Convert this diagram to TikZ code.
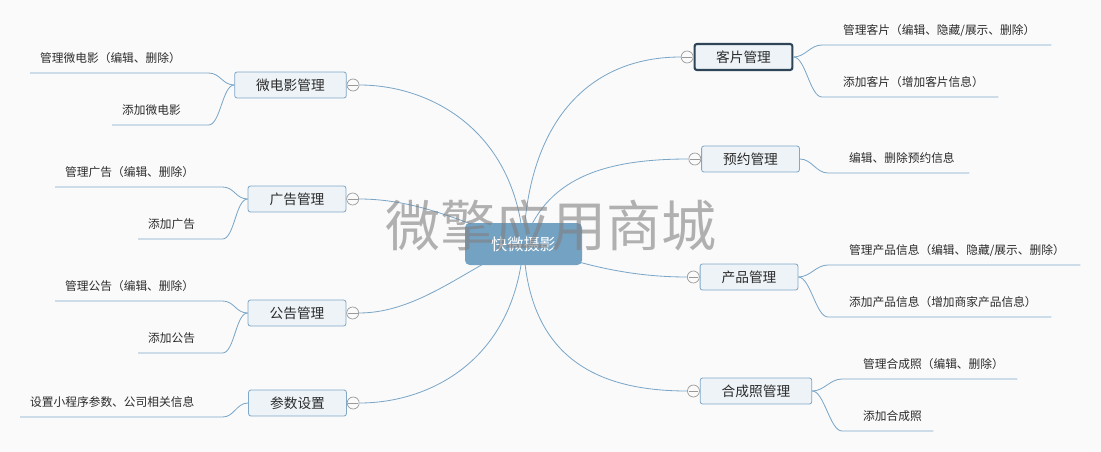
\documentclass[tikz,border=0pt]{standalone}
\usepackage{fontspec}
\setmainfont{Noto Sans CJK SC}
\usetikzlibrary{positioning,backgrounds}
\definecolor{bgcol}{HTML}{FAFAFA}
\definecolor{linkcol}{HTML}{7AA7C8}
\definecolor{topicfill}{HTML}{EEF3F7}
\definecolor{topicline}{HTML}{7FA8C9}
\definecolor{hubfill}{HTML}{74A2C3}
\definecolor{selline}{HTML}{2E4457}
\definecolor{foldcol}{HTML}{999999}
\definecolor{txtcol}{HTML}{2B2B2B}
\tikzset{
	topic/.style={draw=topicline, fill=topicfill, rounded corners=2pt, line width=0.7pt,
			minimum height=0.78cm, inner xsep=0.645cm, inner ysep=0pt, text=txtcol,
			font=\fontsize{11.7pt}{14pt}\selectfont},
	hub/.style={fill=hubfill, rounded corners=4pt, minimum width=3.51cm, minimum height=1.26cm,
			text=white, font=\fontsize{13.8pt}{16pt}\selectfont},
	fold/.style={circle, draw=foldcol, fill=bgcol, minimum size=0.36cm, inner sep=0pt, line width=0.6pt,
			path picture={\draw[foldcol, line width=0.6pt] ([xshift=1pt]path picture bounding box.west) -- ([xshift=-1pt]path picture bounding box.east);}},
	link/.style={draw=linkcol, line width=0.7pt},
	leftleaf/.style={anchor=south west, inner xsep=0.3cm, inner ysep=0.3cm, text depth=0pt,
			align=left, text=txtcol, font=\fontsize{10pt}{12pt}\selectfont},
	rightleaf/.style={leftleaf, inner xsep=0.63cm}
}
\begin{document}
\begin{tikzpicture}[x=0.03cm, y=-0.03cm]

	% Central topic
	\node[hub] (hub) at (523.5,244) {快微摄影};

	% Left side topics
	\node[topic] (mw) at (290.5,85) {微电影管理};
	\node[topic] (gg) at (297,199) {广告管理};
	\node[topic] (ga) at (297,313) {公告管理};
	\node[topic] (cs) at (297.5,403) {参数设置};
	\node[fold, right=0pt of mw] (mwf) {};
	\node[fold, right=0pt of gg] (ggf) {};
	\node[fold, right=0pt of ga] (gaf) {};
	\node[fold, right=0pt of cs] (csf) {};

	% Right side topics
	\node[topic, draw=selline, line width=1.8pt] (kp) at (743.5,57) {客片管理};
	\node[topic] (yy) at (750.5,159) {预约管理};
	\node[topic] (cp) at (749,277) {产品管理};
	\node[topic] (hc) at (756,391) {合成照管理};
	\node[fold, left=0pt of kp] (kpf) {};
	\node[fold, left=0pt of yy] (yyf) {};
	\node[fold, left=0pt of cp] (cpf) {};
	\node[fold, left=0pt of hc] (hcf) {};

	% Links from the centre, behind the boxes
	\begin{scope}[on background layer]
		\fill[bgcol] (0,0) rectangle (1101,452);
		\draw[link] (hub.center) .. controls (515,130) and (430,85) .. (mwf.east);
		\draw[link] (hub.center) .. controls (470,225) and (420,199) .. (ggf.east);
		\draw[link] (hub.center) .. controls (470,265) and (420,313) .. (gaf.east);
		\draw[link] (hub.center) .. controls (515,360) and (430,403) .. (csf.east);
		\draw[link] (hub.center) .. controls (528,120) and (590,57) .. (kpf.west);
		\draw[link] (hub.center) .. controls (545,180) and (600,159) .. (yyf.west);
		\draw[link] (hub.center) .. controls (580,265) and (630,277) .. (cpf.west);
		\draw[link] (hub.center) .. controls (528,360) and (600,391) .. (hcf.west);
	\end{scope}

	% Left leaves
	\node[leftleaf, text width=4.74cm] (mw1) at (30,73) {管理微电影（编辑、删除）};
	\node[leftleaf, text width=2.28cm] (mw2) at (112,125) {添加微电影};
	\node[leftleaf, text width=4.41cm] (gg1) at (55,187) {管理广告（编辑、删除）};
	\node[leftleaf, text width=1.92cm] (gg2) at (138,239) {添加广告};
	\node[leftleaf, text width=4.41cm] (ga1) at (55,301) {管理公告（编辑、删除）};
	\node[leftleaf, text width=1.92cm] (ga2) at (138,353) {添加公告};
	\node[leftleaf, text width=5.46cm] (cs1) at (20,417) {设置小程序参数、公司相关信息};
	\foreach \t/\l in {mw/mw1, mw/mw2, gg/gg1, gg/gg2, ga/ga1, ga/ga2, cs/cs1}
		\draw[link] (\t.west) .. controls +(-12,0) and +(12,0) .. (\l.south east) -- (\l.south west);

	% Right leaves
	\node[rightleaf, text width=5.61cm] (kp1) at (822,45) {管理客片（编辑、隐藏/展示、删除）};
	\node[rightleaf, text width=4.02cm] (kp2) at (822,97) {添加客片（增加客片信息）};
	\node[rightleaf, text width=2.97cm] (yy1) at (828,173) {编辑、删除预约信息};
	\node[rightleaf, text width=6.30cm] (cp1) at (828,265) {管理产品信息（编辑、隐藏/展示、删除）};
	\node[rightleaf, text width=5.43cm] (cp2) at (828,317) {添加产品信息（增加商家产品信息）};
	\node[rightleaf, text width=3.99cm] (hc1) at (842,379) {管理合成照（编辑、删除）};
	\node[rightleaf, text width=1.47cm] (hc2) at (842,431) {添加合成照};
	\foreach \t/\l in {kp/kp1, kp/kp2, yy/yy1, cp/cp1, cp/cp2, hc/hc1, hc/hc2}
		\draw[link] (\t.east) .. controls +(12,0) and +(-12,0) .. (\l.south west) -- (\l.south east);

	% Watermark
	\node[text=gray, opacity=0.6, font=\fontsize{47pt}{50pt}\selectfont] (wm) at (551,226) {微擎应用商城};
\end{tikzpicture}
\end{document}
